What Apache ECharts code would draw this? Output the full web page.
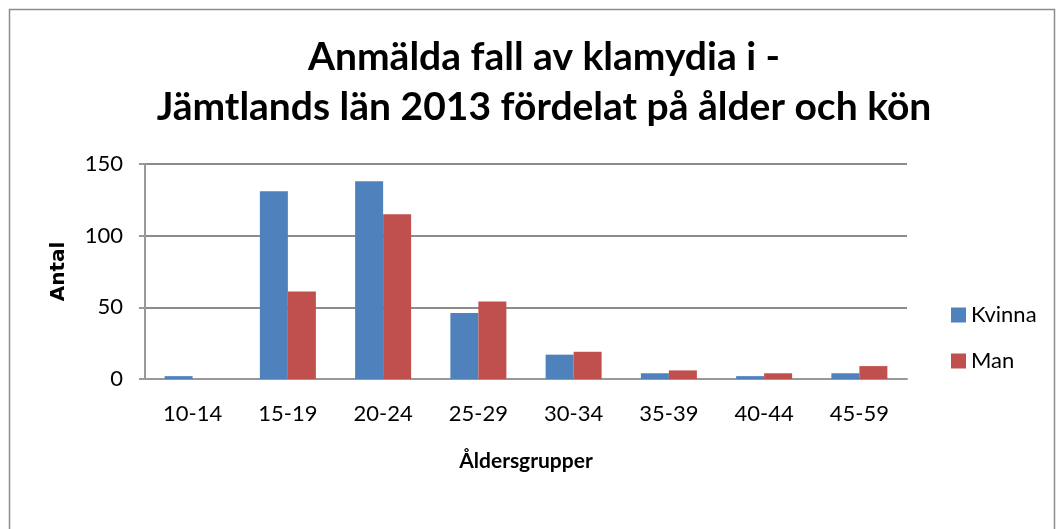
<!DOCTYPE html>
<html>
<head>
<meta charset="utf-8">
<script src="https://cdn.jsdelivr.net/npm/echarts@6/dist/echarts.min.js"></script>
<style>
html,body{margin:0;padding:0;background:#fff;}
#chart{width:1057px;height:529px;}
</style>
</head>
<body>
<div id="chart"></div>
<script>
const categories = ['10-14','15-19','20-24','25-29','30-34','35-39','40-44','45-59'];
const kvinna = [2, 131, 138, 46, 17, 4, 2, 4];
const man = [0, 61, 115, 54, 19, 6, 4, 9];
const yTicks = [0, 50, 100, 150];

const FONT = 'Lato, "Open Sans", sans-serif';
const chart = echarts.init(document.getElementById('chart'));
chart.setOption({
  animation: false,
  backgroundColor: '#fff',
  graphic: [{
    type: 'rect', left: 7, top: 7,
    shape: {width: 1045, height: 540},
    style: {fill: 'none', stroke: '#8c8c8c', lineWidth: 1.5}
  }],
  title: {
    text: 'Anmälda fall av klamydia i -\nJämtlands län 2013 fördelat på ålder och kön',
    left: 539, top: 27, textAlign: 'center',
    textStyle: {fontFamily: FONT, fontWeight: 'bold', fontSize: 39, lineHeight: 50, color: '#000'}
  },
  legend: {
    orient: 'vertical', left: 946, top: 299, itemGap: 24,
    itemWidth: 15, itemHeight: 15, icon: 'rect',
    textStyle: {fontFamily: FONT, fontSize: 22, color: '#000'},
    data: ['Kvinna', 'Man']
  },
  grid: {left: 145, right: 150, top: 164, bottom: 150, containLabel: false},
  xAxis: {
    type: 'category', data: categories,
    name: 'Åldersgrupper', nameLocation: 'middle', nameGap: 72,
    nameTextStyle: {fontFamily: FONT, fontWeight: 'bold', fontSize: 21, color: '#000'},
    axisLine: {lineStyle: {color: '#999', width: 2}},
    axisTick: {show: false},
    axisLabel: {fontFamily: FONT, fontSize: 22, color: '#000', margin: 24}
  },
  yAxis: {
    type: 'value', min: 0, max: 150, interval: 50,
    name: 'Antal', nameLocation: 'middle', nameGap: 76, nameRotate: 90,
    nameTextStyle: {fontFamily: 'DejaVu Sans, sans-serif', fontWeight: 'bold', fontSize: 20, color: '#000'},
    axisLine: {show: true, lineStyle: {color: '#999', width: 2}},
    axisTick: {show: true, inside: false, length: 6, lineStyle: {color: '#999', width: 2}},
    splitLine: {lineStyle: {color: '#8c8c8c', width: 2}},
    axisLabel: {fontFamily: FONT, fontSize: 22, color: '#000', margin: 22,
      formatter: v => yTicks.includes(v) ? String(v) : ''}
  },
  series: [
    {name: 'Kvinna', type: 'bar', data: kvinna, barWidth: 28, barGap: '0%',
     itemStyle: {color: '#4F81BD'}},
    {name: 'Man', type: 'bar', data: man, barWidth: 28,
     itemStyle: {color: '#C0504D'}}
  ]
});
</script>
</body>
</html>
